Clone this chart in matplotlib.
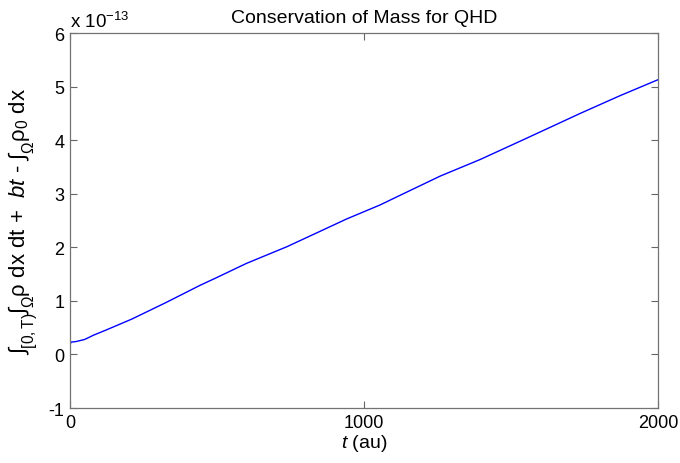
import matplotlib
matplotlib.use("Agg")
import matplotlib.pyplot as plt
from matplotlib.ticker import FuncFormatter

# values (mass error, scaled 1e-13)
t = [0, 3, 20, 50, 80, 120, 210, 323, 442, 493, 600, 737, 941, 1054,
     1122, 1259, 1395, 1550, 1735, 1870, 2000]
err = [0.17, 0.23, 0.24, 0.28, 0.36, 0.45, 0.66, 0.96, 1.29, 1.42, 1.70,
       2.01, 2.53, 2.79, 2.97, 3.33, 3.64, 4.03, 4.50, 4.83, 5.13]
scale = 1e-13
err = [e * scale for e in err]

xticks = [0, 1000, 2000]
yticks = [-1, 0, 1, 2, 3, 4, 5, 6]

plt.rcParams['font.family'] = ['Liberation Sans', 'DejaVu Sans']
plt.rcParams['mathtext.fontset'] = 'custom'
plt.rcParams['mathtext.rm'] = 'Liberation Sans'
plt.rcParams['mathtext.it'] = 'Liberation Sans:italic'
plt.rcParams['mathtext.bf'] = 'Liberation Sans:bold'

fig = plt.figure(figsize=(6.8, 4.64), dpi=100)
ax = fig.add_axes([0.103, 0.1185, 0.865, 0.8082])

ax.plot(t, err, color='#0000ff', lw=1.0)

ax.set_xlim(0, 2000)
ax.set_ylim(-1 * scale, 6 * scale)
ax.set_xticks(xticks)
ax.set_yticks([y * scale for y in yticks])
ax.yaxis.set_major_formatter(FuncFormatter(lambda v, p: '%g' % round(v / scale, 6)))

ax.tick_params(direction='in', top=True, right=True, length=5,
               color='0.4', labelsize=13, pad=4)
for s in ax.spines.values():
    s.set_color('0.45')
    s.set_linewidth(0.9)

ax.text(0.0, 1.005, r'x 10$^{\mathrm{-13}}$', transform=ax.transAxes,
        fontsize=13.5, ha='left', va='bottom')

ax.set_title('Conservation of Mass for QHD', fontsize=14, pad=8)
ax.set_xlabel(r'$t$ (au)', fontsize=14, labelpad=1)
ax.set_ylabel(r'$\int_{\mathrm{[0,T)}}\int_{\Omega}$ρ dx dt +  $bt$ - $\int_{\Omega}$ρ$_0$ dx',
              fontsize=16, labelpad=6)

fig.savefig('out.png', dpi=100)
